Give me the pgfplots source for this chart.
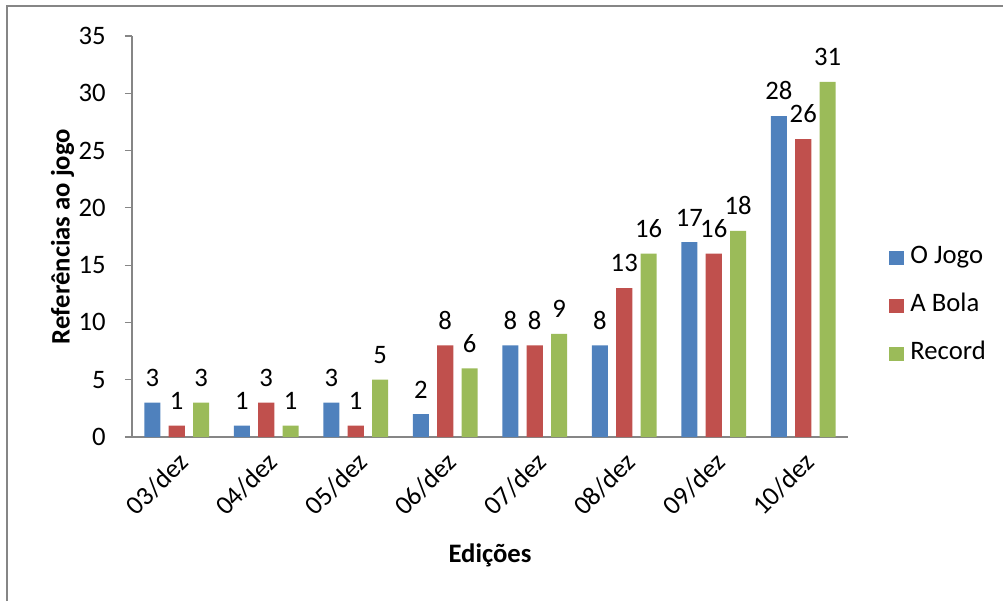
\documentclass[border=0pt]{standalone}
\usepackage{pgfplots}
\pgfplotsset{compat=1.18}
\usepackage{fontspec}
\setmainfont{Carlito}
\definecolor{jogo}{HTML}{4F81BD}
\definecolor{bola}{HTML}{C0504D}
\definecolor{record}{HTML}{9BBB59}
\definecolor{axisgray}{HTML}{868686}
\newcommand\chartfont{\fontsize{20}{24}\selectfont}

\begin{document}
\begin{tikzpicture}
\useasboundingbox (0,0) rectangle (752.25pt,450.75pt);
% chart area frame (left and top edges)
\draw[axisgray, line width=0.9pt] (5.25pt,0) -- (5.25pt,446.25pt) -- (752.25pt,446.25pt);
\begin{axis}[
  at={(99pt,123pt)}, anchor=south west,
  width=537pt, height=300.75pt, scale only axis,
  xmin=-0.5, xmax=7.5, ymin=0, ymax=35,
  ybar, bar width=0.179,
  axis x line*=bottom, axis y line*=left,
  axis line style={axisgray, line width=0.9pt, -},
  tick align=outside,
  major tick length=5.25pt, minor tick length=5.25pt,
  every tick/.style={axisgray, line width=0.9pt},
  ytick={0,5,...,35},
  xtick={0,...,7},
  xticklabels={03/dez,04/dez,05/dez,06/dez,07/dez,08/dez,09/dez,10/dez},
  xtick style={draw=none},
  minor xtick={-0.5,0.5,...,7.5},
  /pgf/number format/assume math mode=true,
  tick label style={font=\chartfont, text=black},
  yticklabel style={anchor=east, xshift=-11pt},
  xticklabel style={rotate=45, anchor=north east},
  xlabel={\textbf{Edições}},
  ylabel={\textbf{Referências ao jogo}},
  label style={font=\chartfont},
  xlabel style={at={(axis description cs:0.5,-0.294)}, anchor=center},
  ylabel style={at={(axis description cs:-0.097,0.5)}, anchor=center},
  nodes near coords,
  nodes near coords style={font=\chartfont, text=black, yshift=8.5pt},
  legend image code/.code={\fill[#1] (0pt,-5.5pt) rectangle (11pt,5.5pt);},
  legend style={at={(axis description cs:1.057,0.327)}, anchor=west,
    draw=none, fill=none, font=\chartfont, inner sep=0pt,
    row sep=19pt, column sep=5pt,
    nodes={inner sep=0pt, text height=13pt, text depth=4pt}},
  legend cell align=left,
]
\addplot[fill=jogo, draw=none, bar shift=-0.272] coordinates
  {(0,3) (1,1) (2,3) (3,2) (4,8) (5,8) (6,17) (7,28)};
\addplot[fill=bola, draw=none, bar shift=0] coordinates
  {(0,1) (1,3) (2,1) (3,8) (4,8) (5,13) (6,16) (7,26)};
\addplot[fill=record, draw=none, bar shift=0.272] coordinates
  {(0,3) (1,1) (2,5) (3,6) (4,9) (5,16) (6,18) (7,31)};
\legend{O Jogo, A Bola, Record}
\end{axis}
\end{tikzpicture}
\end{document}
